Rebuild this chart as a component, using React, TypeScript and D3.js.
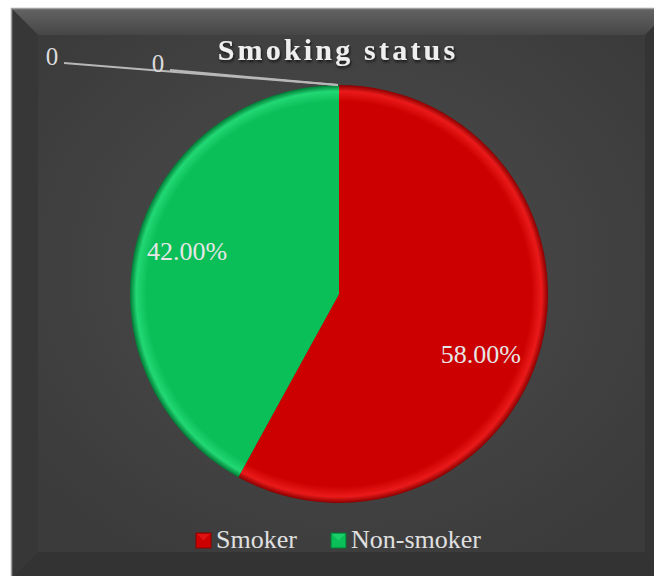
import React, { useRef, useEffect } from 'react';
import * as d3 from 'd3';

// chart data
const categories = ['Smoker', 'Non-smoker', '', ''];
const values = [58, 42, 0, 0];
const sliceColors = ['#cc0000', '#0abf57', '#888888', '#888888'];
const sliceEdge = ['#ea1a1a', '#22d874', '#aaaaaa', '#aaaaaa'];
const sliceRim = ['#8a0000', '#007a35', '#555555', '#555555'];
const title = 'Smoking status';

// where Excel dragged the zero-value labels, and nudges for the others
const zeroLabelPos = [
  { x: 52, y: 65 },
  { x: 158, y: 72 },
];
const labelNudge = [
  { dx: -12, dy: 20 },
  { dx: 2, dy: -4 },
];

const W = 654;
const H = 576;

function SmokingPie() {
  const svgRef = useRef<SVGSVGElement>(null);

  useEffect(() => {
    const svg = d3.select(svgRef.current);
    svg.selectAll('*').remove();
    const defs = svg.append('defs');
    const font = '"Liberation Serif", "Times New Roman", serif';

    // frame with bevel
    const ox0 = 11, oy0 = 8, ox1 = 672, oy1 = 579, b = 27;
    const ix0 = ox0 + b, iy0 = oy0 + b, ix1 = ox1 - b, iy1 = oy1 - b;

    const bg = defs.append('radialGradient').attr('id', 'bg')
      .attr('cx', '50%').attr('cy', '45%').attr('r', '65%');
    bg.append('stop').attr('offset', '0%').attr('stop-color', '#4d4d4d');
    bg.append('stop').attr('offset', '100%').attr('stop-color', '#3b3b3b');

    const topG = defs.append('linearGradient').attr('id', 'topbev')
      .attr('x1', 0).attr('y1', 0).attr('x2', 0).attr('y2', 1);
    topG.append('stop').attr('offset', '0%').attr('stop-color', '#646464');
    topG.append('stop').attr('offset', '100%').attr('stop-color', '#464646');

    svg.append('rect')
      .attr('x', ox0).attr('y', oy0)
      .attr('width', ox1 - ox0).attr('height', oy1 - oy0)
      .attr('fill', '#3a3a3a');

    const poly = (pts: number[][]) => pts.map((p) => p.join(',')).join(' ');
    svg.append('polygon')
      .attr('points', poly([[ox0, oy0], [ox1, oy0], [ix1, iy0], [ix0, iy0]]))
      .attr('fill', 'url(#topbev)');
    svg.append('polygon')
      .attr('points', poly([[ox0, oy0], [ix0, iy0], [ix0, iy1], [ox0, oy1]]))
      .attr('fill', '#373737');
    svg.append('polygon')
      .attr('points', poly([[ox1, oy0], [ix1, iy0], [ix1, iy1], [ox1, oy1]]))
      .attr('fill', '#343434');
    svg.append('polygon')
      .attr('points', poly([[ox0, oy1], [ix0, iy1], [ix1, iy1], [ox1, oy1]]))
      .attr('fill', '#333333');
    svg.append('rect')
      .attr('x', ix0).attr('y', iy0)
      .attr('width', ix1 - ix0).attr('height', iy1 - iy0)
      .attr('fill', 'url(#bg)');
    svg.append('rect')
      .attr('x', ox0 + 0.5).attr('y', oy0 + 0.5)
      .attr('width', ox1 - ox0).attr('height', oy1 - oy0)
      .attr('fill', 'none').attr('stroke', '#a0a0a0').attr('stroke-width', 1.5);

    // title
    const shadow = defs.append('filter').attr('id', 'tshadow')
      .attr('x', '-10%').attr('y', '-30%').attr('width', '120%').attr('height', '160%');
    shadow.append('feDropShadow')
      .attr('dx', 1).attr('dy', 2).attr('stdDeviation', 1.5)
      .attr('flood-color', '#000').attr('flood-opacity', 0.7);

    svg.append('text')
      .attr('x', 338).attr('y', 60)
      .attr('text-anchor', 'middle')
      .attr('font-family', font)
      .attr('font-weight', 'bold')
      .attr('font-size', 30)
      .attr('letter-spacing', 3.2)
      .attr('fill', '#efefef')
      .attr('filter', 'url(#tshadow)')
      .text(title);

    // pie
    const cx = 339, cy = 294, r = 209;
    const pie = d3.pie<number>().sort(null).value((d) => d)(values);
    const arc = d3.arc<d3.PieArcDatum<number>>().innerRadius(0).outerRadius(r);
    const labelArc = d3.arc<d3.PieArcDatum<number>>()
      .innerRadius(r * 0.76).outerRadius(r * 0.76);

    categories.forEach((_, i) => {
      const g = defs.append('radialGradient').attr('id', `slice${i}`)
        .attr('gradientUnits', 'userSpaceOnUse')
        .attr('cx', 0).attr('cy', 0).attr('r', r);
      g.append('stop').attr('offset', '0%').attr('stop-color', sliceColors[i]);
      g.append('stop').attr('offset', '92%').attr('stop-color', sliceColors[i]);
      g.append('stop').attr('offset', '97%').attr('stop-color', sliceEdge[i]);
      g.append('stop').attr('offset', '100%').attr('stop-color', sliceRim[i]);
    });

    const pg = svg.append('g').attr('transform', `translate(${cx},${cy})`);

    // leader lines for zero-value labels
    const total = d3.sum(values);
    pie.forEach((d, i) => {
      if (d.data !== 0) return;
      const p = zeroLabelPos[i - 2];
      svg.append('line')
        .attr('x1', p.x + 12).attr('y1', p.y - 2)
        .attr('x2', cx + Math.sin(d.startAngle) * r - 1)
        .attr('y2', cy - Math.cos(d.startAngle) * r)
        .attr('stroke', '#b8b8b8').attr('stroke-width', 2);
    });

    const shown = pie.filter((d) => d.data > 0);

    pg.selectAll('path.slice')
      .data(shown)
      .enter()
      .append('path')
      .attr('class', 'slice')
      .attr('d', arc)
      .attr('fill', (d) => `url(#slice${d.index})`);

    pg.selectAll('text.pct')
      .data(shown)
      .enter()
      .append('text')
      .attr('class', 'pct')
      .attr('transform', (d) => {
        const [x, y] = labelArc.centroid(d);
        const n = labelNudge[d.index];
        return `translate(${x + n.dx},${y + n.dy})`;
      })
      .attr('text-anchor', 'middle')
      .attr('dy', '0.35em')
      .attr('font-family', font)
      .attr('font-size', 26)
      .attr('fill', '#e6e6e6')
      .text((d) => d3.format('.2%')(d.data / total));

    pie.forEach((d, i) => {
      if (d.data !== 0) return;
      const p = zeroLabelPos[i - 2];
      svg.append('text')
        .attr('x', p.x).attr('y', p.y)
        .attr('text-anchor', 'middle')
        .attr('font-family', font)
        .attr('font-size', 25)
        .attr('fill', '#dcdcdc')
        .text(String(d.data));
    });

    // legend
    const legendItems = categories
      .map((c, i) => ({ name: c, i }))
      .filter((d) => d.name !== '');
    const legendX = [196, 331];
    const lg = svg.append('g');
    legendItems.forEach((d, k) => {
      const gx = legendX[k];
      lg.append('rect')
        .attr('x', gx).attr('y', 533)
        .attr('width', 15).attr('height', 15)
        .attr('fill', sliceColors[d.i])
        .attr('stroke', sliceRim[d.i]).attr('stroke-width', 1);
      lg.append('polygon')
        .attr('points', `${gx + 1},${534} ${gx + 14},${534} ${gx + 7.5},${540.5}`)
        .attr('fill', sliceEdge[d.i]).attr('opacity', 0.7);
      lg.append('text')
        .attr('x', gx + 20).attr('y', 548)
        .attr('font-family', font)
        .attr('font-size', 26)
        .attr('fill', '#e0e0e0')
        .text(d.name);
    });
  }, []);

  return (
    <svg
      ref={svgRef}
      width={W}
      height={H}
      style={{ position: 'fixed', left: 0, top: 0, display: 'block' }}
    />
  );
}

export default function App() {
  return <SmokingPie />;
}
